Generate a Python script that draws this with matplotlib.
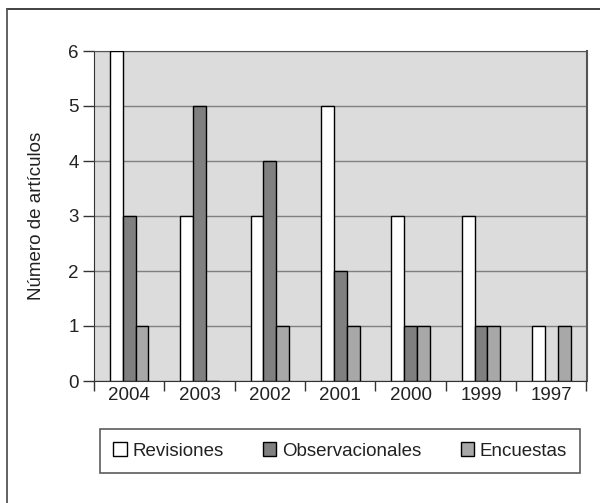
import matplotlib
matplotlib.use("Agg")
import matplotlib.pyplot as plt
import numpy as np
from matplotlib.lines import Line2D

years = ["2004", "2003", "2002", "2001", "2000", "1999", "1997"]
revisiones = [6, 3, 3, 5, 3, 3, 1]
observacionales = [3, 5, 4, 2, 1, 1, 0]
encuestas = [1, 0, 1, 1, 1, 1, 1]
series_names = ["Revisiones", "Observacionales", "Encuestas"]
y_ticks = [0, 1, 2, 3, 4, 5, 6]

plt.rcParams['font.family'] = ['Liberation Sans', 'DejaVu Sans']
FS = 13.5

fig = plt.figure(figsize=(6.0, 5.03), dpi=100)
# outer frame: only top and left edges visible (image cropped)
fx0, fy_top = 6.5 / 600, 1 - 9 / 503
fig.lines.append(Line2D([fx0, 1.0], [fy_top, fy_top], transform=fig.transFigure,
                        color='#333333', linewidth=1.3))
fig.lines.append(Line2D([fx0, fx0], [0.0, fy_top], transform=fig.transFigure,
                        color='#555555', linewidth=1.3))

ax = fig.add_axes([94/600, 1 - 381/503, (586.5-94)/600, (381-51)/503])
ax.set_facecolor('#dcdcdc')

x = np.arange(len(years))
w = 0.183
colors = ['white', '#808080', '#a8a8a8']
for i, (vals, c, name) in enumerate(zip([revisiones, observacionales, encuestas], colors, series_names)):
    ax.bar(x + (i - 1) * w, vals, width=w, color=c, edgecolor='black', linewidth=1.0,
           label=name, zorder=3)

ax.set_xlim(-0.5, len(years) - 0.5)
ax.set_ylim(0, 6)
ax.set_yticks(y_ticks)
ax.set_yticklabels([str(t) for t in y_ticks], fontsize=FS, color='#222222')
ax.set_xticks(np.arange(len(years) + 1) - 0.5, minor=False)
ax.set_xticklabels([])
ax.set_xticks(x, minor=True)
ax.set_xticklabels(years, minor=True, fontsize=FS, color='#222222')
ax.tick_params(axis='x', which='minor', length=0, pad=4)
ax.tick_params(axis='x', which='major', length=7, direction='out', width=1, color='#333333')
ax.tick_params(axis='y', length=8, direction='out', width=1, color='#333333', pad=3)
ax.yaxis.grid(True, color='#808080', linewidth=1.0, zorder=1)
ax.set_axisbelow(True)
ax.spines['top'].set_color('#555555')
ax.spines['right'].set_color('#555555')
ax.spines['right'].set_linewidth(1.5)
ax.spines['left'].set_color('#333333')
ax.spines['bottom'].set_color('#333333')
ax.set_ylabel("Número de artículos", fontsize=FS, color='#222222', labelpad=17)

leg = fig.legend(loc='center', bbox_to_anchor=(340/600, 1 - 451/503), ncol=3,
                 fontsize=FS, frameon=True, fancybox=False, edgecolor='#333333',
                 handlelength=0.72, handleheight=0.72, handletextpad=0.3, columnspacing=2.1,
                 borderpad=0.7, borderaxespad=0)
leg.get_frame().set_linewidth(1.2)
for t in leg.get_texts():
    t.set_color('#222222')

fig.savefig("out.png", dpi=100)
